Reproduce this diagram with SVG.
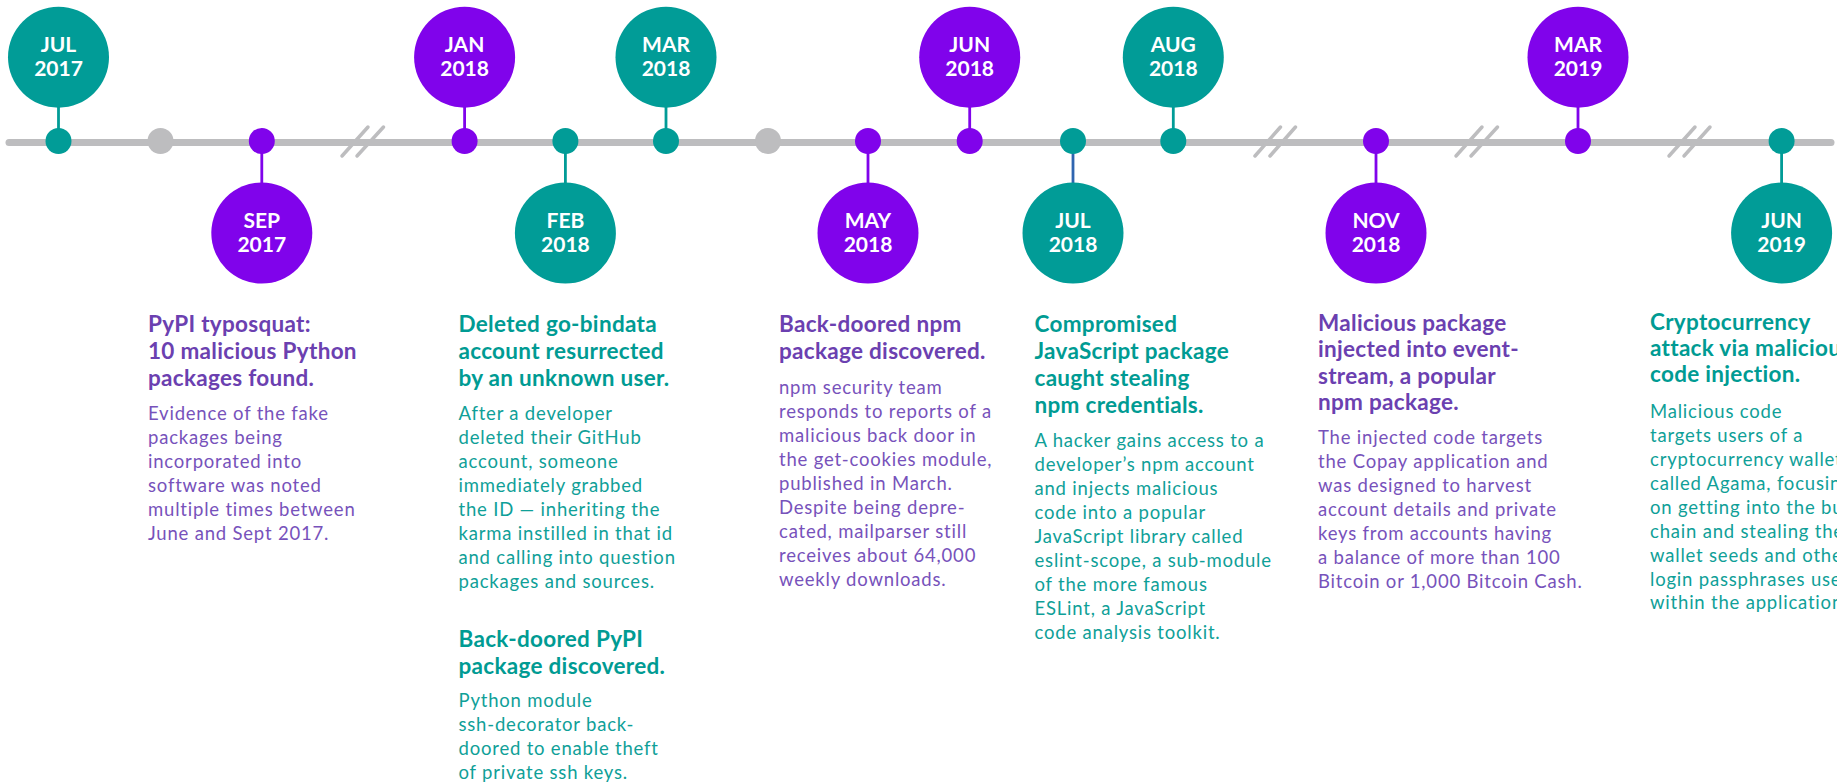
<svg xmlns="http://www.w3.org/2000/svg" width="1837" height="783" viewBox="0 0 1837 783">
<defs>
<style>
text{font-family:Lato,"Liberation Sans",sans-serif}
.lbl{fill:#fff;font-size:21px;font-weight:700;text-anchor:middle}
.tt{font-size:22.5px;font-weight:700;letter-spacing:0.3px}
.bd{font-size:18.5px;font-weight:400;letter-spacing:0.8px}
.pT{fill:#6b40b0}.pB{fill:#7752bb}
.gT{fill:#009b93}.gB{fill:#0fa098}
.teal{fill:#019c97}.purp{fill:#8003eb}.gray{fill:#bdbdbf}
.axis{stroke:#bdbdbf;stroke-width:7;stroke-linecap:round;fill:none}
.brk{stroke:#bdbdbf;stroke-width:3.5;stroke-linecap:round;fill:none}
.st{stroke-width:2.8}
.stT{stroke:#019c97}.stP{stroke:#8003eb}.stB{stroke:#2f65b0}
</style>
</defs>
<rect width="1837" height="783" fill="#fff"/>
<g id="timeline">
<line class="axis" x1="9" y1="142.5" x2="1831" y2="142.5"/>
<path class="brk" d="M342,156 L368,127 M357,156 L383.5,127"/>
<path class="brk" d="M1255,156 L1280.5,127 M1270,156 L1295.5,127"/>
<path class="brk" d="M1456,156 L1482,127 M1471,156 L1497.5,127"/>
<path class="brk" d="M1669,156 L1695,127 M1684,156 L1710,127"/>
<circle class="gray" cx="160.5" cy="141" r="13"/>
<circle class="gray" cx="768" cy="141" r="13"/>
</g>
<g id="connectors">
<line class="st stT" x1="58.5" y1="106" x2="58.5" y2="141"/>
<line class="st stP" x1="261.8" y1="141" x2="261.8" y2="184"/>
<line class="st stP" x1="464.6" y1="106" x2="464.6" y2="141"/>
<line class="st stT" x1="565.4" y1="141" x2="565.4" y2="184"/>
<line class="st stT" x1="666" y1="106" x2="666" y2="141"/>
<line class="st stP" x1="868" y1="141" x2="868" y2="184"/>
<line class="st stP" x1="969.7" y1="106" x2="969.7" y2="141"/>
<line class="st stB" x1="1073" y1="141" x2="1073" y2="184"/>
<line class="st stT" x1="1173.3" y1="106" x2="1173.3" y2="141"/>
<line class="st stP" x1="1376" y1="141" x2="1376" y2="184"/>
<line class="st stP" x1="1578" y1="106" x2="1578" y2="141"/>
<line class="st stT" x1="1781.6" y1="141" x2="1781.6" y2="184"/>
</g>
<g id="jul2017">
<circle class="teal" cx="58.5" cy="141" r="13"/>
<circle class="teal" cx="58.5" cy="57.2" r="50.5"/>
<text class="lbl" x="58.5" y="52">JUL</text><text class="lbl" x="58.5" y="76">2017</text>
</g>
<g id="sep2017">
<circle class="purp" cx="261.8" cy="141" r="13"/>
<circle class="purp" cx="261.8" cy="233" r="50.5"/>
<text class="lbl" x="261.8" y="228">SEP</text><text class="lbl" x="261.8" y="252">2017</text>
<text class="tt pT" x="148"><tspan x="148" y="332">PyPI typosquat:</tspan><tspan x="148" y="359">10 malicious Python</tspan><tspan x="148" y="386">packages found.</tspan></text>
<text class="bd pB" x="148"><tspan x="148" y="420">Evidence of the fake</tspan><tspan x="148" y="444">packages being</tspan><tspan x="148" y="468">incorporated into</tspan><tspan x="148" y="492">software was noted</tspan><tspan x="148" y="516">multiple times between</tspan><tspan x="148" y="540">June and Sept 2017.</tspan></text>
</g>
<g id="jan2018">
<circle class="purp" cx="464.6" cy="141" r="13"/>
<circle class="purp" cx="464.6" cy="57.2" r="50.5"/>
<text class="lbl" x="464.6" y="52">JAN</text><text class="lbl" x="464.6" y="76">2018</text>
</g>
<g id="feb2018">
<circle class="teal" cx="565.4" cy="141" r="13"/>
<circle class="teal" cx="565.4" cy="233" r="50.5"/>
<text class="lbl" x="565.4" y="228">FEB</text><text class="lbl" x="565.4" y="252">2018</text>
<text class="tt gT"><tspan x="458.5" y="332">Deleted go-bindata</tspan><tspan x="458.5" y="359">account resurrected</tspan><tspan x="458.5" y="386">by an unknown user.</tspan></text>
<text class="bd gB"><tspan x="458.5" y="420">After a developer</tspan><tspan x="458.5" y="444">deleted their GitHub</tspan><tspan x="458.5" y="468">account, someone</tspan><tspan x="458.5" y="492">immediately grabbed</tspan><tspan x="458.5" y="516">the ID — inheriting the</tspan><tspan x="458.5" y="540">karma instilled in that id</tspan><tspan x="458.5" y="564">and calling into question</tspan><tspan x="458.5" y="588">packages and sources.</tspan></text>
<text class="tt gT"><tspan x="458.5" y="647">Back-doored PyPI</tspan><tspan x="458.5" y="674">package discovered.</tspan></text>
<text class="bd gB"><tspan x="458.5" y="707">Python module</tspan><tspan x="458.5" y="731">ssh-decorator back-</tspan><tspan x="458.5" y="755">doored to enable theft</tspan><tspan x="458.5" y="779">of private ssh keys.</tspan></text>
</g>
<g id="mar2018">
<circle class="teal" cx="666" cy="141" r="13"/>
<circle class="teal" cx="666" cy="57.2" r="50.5"/>
<text class="lbl" x="666" y="52">MAR</text><text class="lbl" x="666" y="76">2018</text>
</g>
<g id="may2018">
<circle class="purp" cx="868" cy="141" r="13"/>
<circle class="purp" cx="868" cy="233" r="50.5"/>
<text class="lbl" x="868" y="228">MAY</text><text class="lbl" x="868" y="252">2018</text>
<text class="tt pT"><tspan x="779" y="332">Back-doored npm</tspan><tspan x="779" y="359">package discovered.</tspan></text>
<text class="bd pB"><tspan x="779" y="394">npm security team</tspan><tspan x="779" y="418">responds to reports of a</tspan><tspan x="779" y="442">malicious back door in</tspan><tspan x="779" y="466">the get-cookies module,</tspan><tspan x="779" y="490">published in March.</tspan><tspan x="779" y="514">Despite being depre-</tspan><tspan x="779" y="538">cated, mailparser still</tspan><tspan x="779" y="562">receives about 64,000</tspan><tspan x="779" y="586">weekly downloads.</tspan></text>
</g>
<g id="jun2018">
<circle class="purp" cx="969.7" cy="141" r="13"/>
<circle class="purp" cx="969.7" cy="57.2" r="50.5"/>
<text class="lbl" x="969.7" y="52">JUN</text><text class="lbl" x="969.7" y="76">2018</text>
</g>
<g id="jul2018">
<circle class="teal" cx="1073" cy="141" r="13"/>
<circle class="teal" cx="1073" cy="233" r="50.5"/>
<text class="lbl" x="1073" y="228">JUL</text><text class="lbl" x="1073" y="252">2018</text>
<text class="tt gT"><tspan x="1034.5" y="332">Compromised</tspan><tspan x="1034.5" y="359">JavaScript package</tspan><tspan x="1034.5" y="386">caught stealing</tspan><tspan x="1034.5" y="413">npm credentials.</tspan></text>
<text class="bd gB"><tspan x="1034.5" y="447">A hacker gains access to a</tspan><tspan x="1034.5" y="471">developer’s npm account</tspan><tspan x="1034.5" y="495">and injects malicious</tspan><tspan x="1034.5" y="519">code into a popular</tspan><tspan x="1034.5" y="543">JavaScript library called</tspan><tspan x="1034.5" y="567">eslint-scope, a sub-module</tspan><tspan x="1034.5" y="591">of the more famous</tspan><tspan x="1034.5" y="615">ESLint, a JavaScript</tspan><tspan x="1034.5" y="639">code analysis toolkit.</tspan></text>
</g>
<g id="aug2018">
<circle class="teal" cx="1173.3" cy="141" r="13"/>
<circle class="teal" cx="1173.3" cy="57.2" r="50.5"/>
<text class="lbl" x="1173.3" y="52">AUG</text><text class="lbl" x="1173.3" y="76">2018</text>
</g>
<g id="nov2018">
<circle class="purp" cx="1376" cy="141" r="13"/>
<circle class="purp" cx="1376" cy="233" r="50.5"/>
<text class="lbl" x="1376" y="228">NOV</text><text class="lbl" x="1376" y="252">2018</text>
<text class="tt pT"><tspan x="1318" y="331">Malicious package</tspan><tspan x="1318" y="357">injected into event-</tspan><tspan x="1318" y="383.5">stream, a popular</tspan><tspan x="1318" y="410">npm package.</tspan></text>
<text class="bd pB"><tspan x="1318" y="444">The injected code targets</tspan><tspan x="1318" y="468">the Copay application and</tspan><tspan x="1318" y="492">was designed to harvest</tspan><tspan x="1318" y="516">account details and private</tspan><tspan x="1318" y="540">keys from accounts having</tspan><tspan x="1318" y="564">a balance of more than 100</tspan><tspan x="1318" y="588">Bitcoin or 1,000 Bitcoin Cash.</tspan></text>
</g>
<g id="mar2019">
<circle class="purp" cx="1578" cy="141" r="13"/>
<circle class="purp" cx="1578" cy="57.2" r="50.5"/>
<text class="lbl" x="1578" y="52">MAR</text><text class="lbl" x="1578" y="76">2019</text>
</g>
<g id="jun2019">
<circle class="teal" cx="1781.6" cy="141" r="13"/>
<circle class="teal" cx="1781.6" cy="233" r="50.5"/>
<text class="lbl" x="1781.6" y="228">JUN</text><text class="lbl" x="1781.6" y="252">2019</text>
<text class="tt gT"><tspan x="1650" y="330">Cryptocurrency</tspan><tspan x="1650" y="356">attack via malicious</tspan><tspan x="1650" y="382">code injection.</tspan></text>
<text class="bd gB"><tspan x="1650" y="418">Malicious code</tspan><tspan x="1650" y="442">targets users of a</tspan><tspan x="1650" y="466">cryptocurrency wallet</tspan><tspan x="1650" y="490">called Agama, focusing</tspan><tspan x="1650" y="514">on getting into the build</tspan><tspan x="1650" y="538">chain and stealing the</tspan><tspan x="1650" y="562">wallet seeds and other</tspan><tspan x="1650" y="586">login passphrases used</tspan><tspan x="1650" y="609">within the application.</tspan></text>
</g>
</svg>
